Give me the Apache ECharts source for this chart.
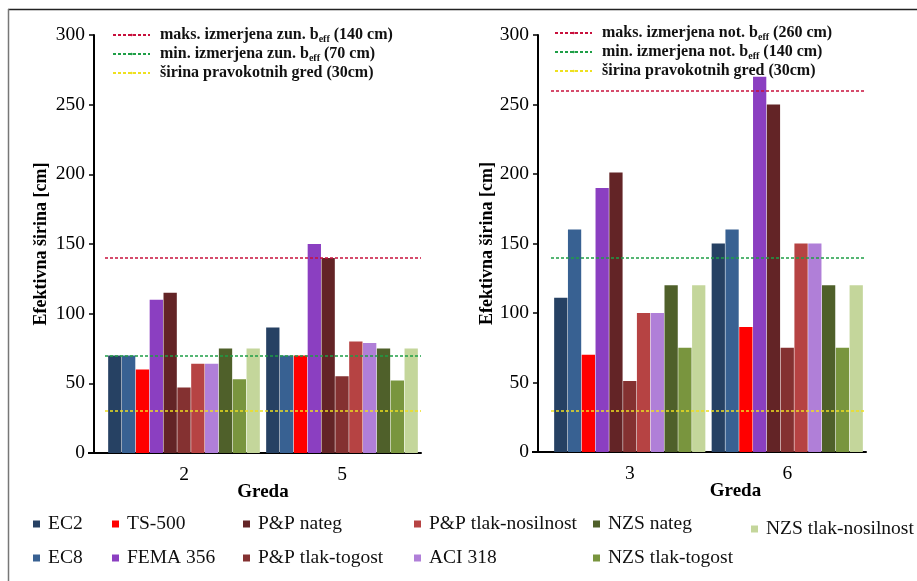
<!DOCTYPE html>
<html>
<head>
<meta charset="utf-8">
<script src="https://cdn.jsdelivr.net/npm/echarts@6/dist/echarts.min.js"></script>
<style>
  html, body { margin: 0; padding: 0; background: #ffffff; }
  #chart { width: 917px; height: 581px; }
</style>
</head>
<body>
<div id="chart"></div>
<script>
// Bar series (order of bars inside each group)
const seriesNames = ['EC2', 'EC8', 'TS-500', 'FEMA 356', 'P&P nateg', 'P&P tlak-togost',
  'P&P tlak-nosilnost', 'ACI 318', 'NZS nateg', 'NZS tlak-togost', 'NZS tlak-nosilnost'];
const seriesColors = ['#264163', '#386192', '#ff0000', '#8b3fc1', '#632426', '#843131',
  '#b64343', '#b07fd8', '#4f602a', '#79953e', '#c4d69b'];

// Categories (beam numbers) for the two panels
const outerGredaLabels = ['2', '5'];
const innerGredaLabels = ['3', '6'];

// Effective width [cm] per beam, one value per series (same order as seriesNames)
const greda2 = [70, 70, 60, 110, 115, 47, 64, 64, 75, 53, 75];
const greda5 = [90, 70, 70, 150, 140, 55, 80, 79, 75, 52, 75];
const greda3 = [111, 160, 70, 190, 201, 51, 100, 100, 120, 75, 120];
const greda6 = [150, 160, 90, 270, 250, 75, 150, 150, 120, 75, 120];

// Measured reference widths [cm]
const outerRefNames = ['maks. izmerjena zun. beff (140 cm)', 'min. izmerjena zun. beff (70 cm)', 'širina pravokotnih gred (30cm)'];
const outerRefValues = [140, 70, 30];
const innerRefNames = ['maks. izmerjena not. beff (260 cm)', 'min. izmerjena not. beff (140 cm)', 'širina pravokotnih gred (30cm)'];
const innerRefValues = [260, 140, 30];
const refColors = ['#c8103c', '#1e9e46', '#eee020'];

// Value axis ticks
const yMin = 0, yMax = 300, yStep = 50;

// Bottom legend columns
const legendColumns = [
  ['EC2', 'EC8'],
  ['TS-500', 'FEMA 356'],
  ['P&P nateg', 'P&P tlak-togost'],
  ['P&P tlak-nosilnost', 'ACI 318'],
  ['NZS nateg', 'NZS tlak-togost'],
  ['NZS tlak-nosilnost']
];

const SERIF = 'Liberation Serif, Times New Roman, serif';

// layout
const panels = [
  { left: 105, top: 35, width: 316, height: 418, axisOffset: 11, cats: outerGredaLabels, vals: [greda2, greda5],
    refNames: outerRefNames, refValues: outerRefValues, legendLeft: 107, legendTop: 22, namePad: 0, yNameGap: 44 },
  { left: 551, top: 35, width: 315, height: 417, axisOffset: 13, cats: innerGredaLabels, vals: [greda3, greda6],
    refNames: innerRefNames, refValues: innerRefValues, legendLeft: 549, legendTop: 20, namePad: 54, yNameGap: 42 }
];
const legendColLeft = [28, 107, 238, 409, 588, 746];
const legendColTop = [509, 509, 509, 509, 509, 514];

const grid = [], xAxis = [], yAxis = [], series = [], legend = [], graphic = [];

panels.forEach((p, pi) => {
  grid.push({ left: p.left, top: p.top, width: p.width, height: p.height, containLabel: false });
  xAxis.push({
    type: 'category', gridIndex: pi, data: p.cats,
    axisLine: { lineStyle: { color: '#000', width: 2 } },
    axisTick: { show: false },
    axisLabel: { color: '#000', fontFamily: SERIF, fontSize: 19.5, margin: 12 },
    name: 'Greda', nameLocation: 'middle', nameGap: 30, nameMoveOverlap: false,
    nameTextStyle: { color: '#000', fontFamily: SERIF, fontSize: 19, fontWeight: 'bold', padding: [0, 0, 0, p.namePad] }
  });
  yAxis.push({
    type: 'value', gridIndex: pi, min: yMin, max: yMax, interval: yStep, offset: p.axisOffset,
    axisLine: { show: true, lineStyle: { color: '#000', width: 2 } },
    axisTick: { show: true, length: 5, lineStyle: { color: '#000', width: 1.5 } },
    splitLine: { show: false },
    axisLabel: { color: '#000', fontFamily: SERIF, fontSize: 19.5, margin: 9 },
    name: 'Efektivna širina [cm]', nameLocation: 'middle', nameGap: p.yNameGap,
    nameTextStyle: { color: '#000', fontFamily: SERIF, fontSize: 18, fontWeight: 'bold' }
  });

  seriesNames.forEach((name, i) => {
    series.push({
      type: 'bar', name: name, xAxisIndex: pi, yAxisIndex: pi,
      data: p.vals.map(g => g[i]),
      itemStyle: { color: seriesColors[i] },
      barGap: '4%', barCategoryGap: '4%',
      emphasis: { disabled: true }
    });
  });

  p.refNames.forEach((name, k) => {
    series.push({
      type: 'line', name: name, xAxisIndex: pi, yAxisIndex: pi, data: [],
      symbol: 'none', z: 5,
      lineStyle: { color: refColors[k], width: 1.5, type: [3, 2] },
      itemStyle: { color: refColors[k] },
      markLine: {
        silent: true, symbol: 'none', label: { show: false },
        lineStyle: { color: refColors[k], width: 1.5, type: [3, 2] },
        data: [{ yAxis: p.refValues[k] }]
      }
    });
  });

  legend.push({
    orient: 'vertical', left: p.legendLeft, top: p.legendTop,
    itemWidth: 37, itemHeight: 3, itemGap: 2,
    data: p.refNames, selectedMode: false,
    formatter: name => {
      const parts = name.split('beff');
      if (parts.length === 2) return '{g|}{t|' + parts[0] + 'b}{s|eff}{t|' + parts[1] + '}';
      return '{g|}{t|' + name + '}';
    },
    textStyle: {
      fontFamily: SERIF, fontSize: 16, fontWeight: 'bold', color: '#111',
      rich: {
        g: { width: 5 },
        t: { fontFamily: SERIF, fontSize: 16, fontWeight: 'bold', color: '#111', lineHeight: 18 },
        s: { fontFamily: SERIF, fontSize: 10, fontWeight: 'bold', color: '#111', lineHeight: 10, verticalAlign: 'bottom' }
      }
    }
  });

  // x-axis line stub between the offset y axis and the plot area
  const y0 = p.top + p.height;
  graphic.push({
    type: 'line', silent: true,
    shape: { x1: p.left - p.axisOffset - 6, y1: y0, x2: p.left + 1, y2: y0 },
    style: { stroke: '#000', lineWidth: 2 }
  });
});

legendColumns.forEach((col, c) => {
  legend.push({
    orient: 'vertical', left: legendColLeft[c], top: legendColTop[c],
    itemWidth: 7, itemHeight: 7, itemGap: 14, icon: 'rect',
    data: col, selectedMode: false,
    textStyle: { fontFamily: SERIF, fontSize: 19.5, color: '#111', padding: [0, 0, 0, 3] }
  });
});

// outer frame
graphic.push({ type: 'line', silent: true, shape: { x1: 8, y1: 9.5, x2: 917, y2: 9.5 }, style: { stroke: '#222', lineWidth: 1.5 } });
graphic.push({ type: 'line', silent: true, shape: { x1: 8.5, y1: 9, x2: 8.5, y2: 581 }, style: { stroke: '#777', lineWidth: 1.5 } });

const chart = echarts.init(document.getElementById('chart'), null, { renderer: 'canvas' });
chart.setOption({
  animation: false,
  backgroundColor: '#ffffff',
  grid, xAxis, yAxis, series, legend, graphic
});
</script>
</body>
</html>
